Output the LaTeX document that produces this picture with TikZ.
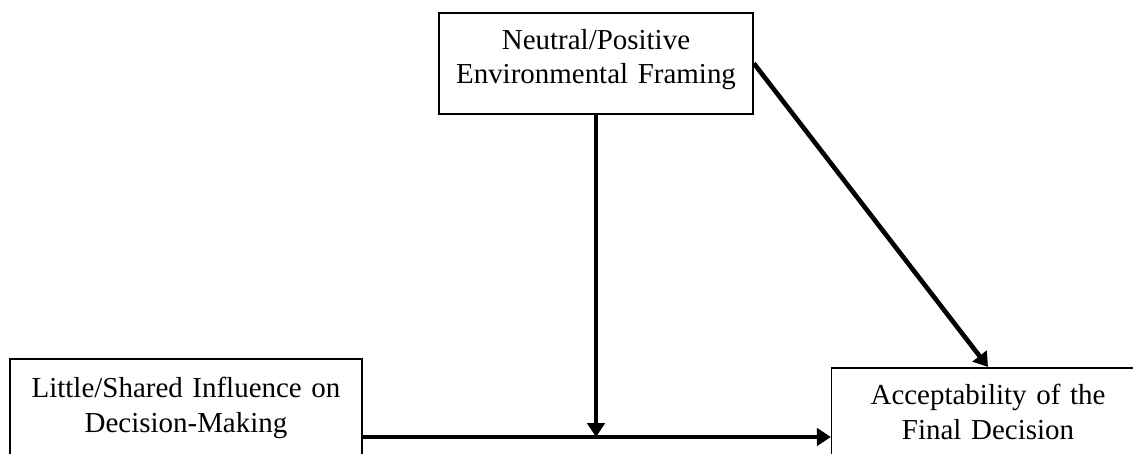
\documentclass[tikz,border=0pt]{standalone}
\usepackage{fontspec}
\setmainfont{Liberation Serif}
\usetikzlibrary{arrows.meta}

\tikzset{
  box/.style={draw, line width=0.7pt, align=center, inner xsep=1pt, font=\fontsize{12.5}{15}\selectfont},
  path/.style={line width=2pt, -{Triangle[length=6pt,width=7.5pt]}}
}

\begin{document}
\begin{tikzpicture}[x=0.4317pt,y=-0.4317pt]

% Fix the page size
\useasboundingbox (0,0) rectangle (1133,454);
\clip (0,0) rectangle (1133,454);

% Draw the boxes
\node[box, anchor=north, text width=133.6pt, inner ysep=7pt, text depth=21pt] (framing) at (596,12)
  {Neutral/Positive\\Environmental Framing};
\node[box, anchor=north, text width=150pt, inner ysep=8pt, text depth=50pt] (influence) at (186,358)
  {Little/Shared Influence on\\Decision-Making};
\node[box, anchor=north, text width=133pt, inner ysep=7pt, text depth=50pt] (acceptance) at (988,367)
  {Acceptability of the\\Final Decision};

% Draw the point where the moderator meets the main path
\coordinate (meet) at (framing.south |- 0,437);

% Draw the arrows
\draw[path] (influence.east |- meet) -- (acceptance.west |- meet);
\draw[path] (framing.south) -- (meet);
\draw[path] (framing.east) -- (acceptance.north);

\end{tikzpicture}
\end{document}
